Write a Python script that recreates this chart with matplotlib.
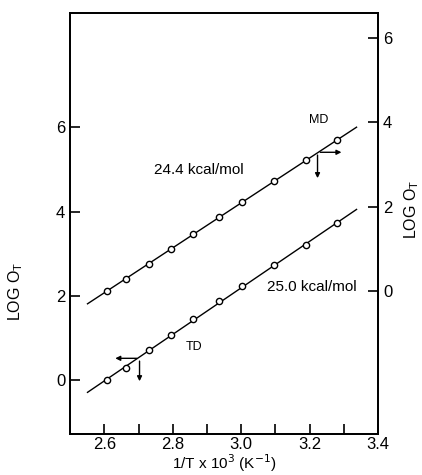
import numpy as np
import matplotlib.pyplot as plt

# 1/T x 10^3 values of the measured points
inv_T = [2.607, 2.664, 2.732, 2.796, 2.860, 2.935, 3.003, 3.097, 3.190, 3.281]
# TD series, read against the left axis
log_td = [0.00, 0.30, 0.71, 1.07, 1.45, 1.88, 2.24, 2.73, 3.21, 3.72]
# MD series, read against the right axis
log_md = [-0.01, 0.29, 0.65, 0.99, 1.36, 1.75, 2.12, 2.61, 3.10, 3.57]

x_ticks = [2.6, 2.8, 3.0, 3.2, 3.4]
x_tick_labels = ["2.6", "2.8", "3.0", "3.2", "3.4"]
y_ticks = [0, 2, 4, 6]
right_offset = 2.12  # right axis value = left axis value - offset

plt.rcParams['font.family'] = ['Liberation Sans', 'DejaVu Sans']
fig = plt.figure(figsize=(4.22, 4.75), dpi=100)
ax = fig.add_axes([0.166, 0.086, 0.730, 0.887])
ax2 = ax.twinx()

ylim = (-1.28, 8.72)
ax.set_xlim(2.5, 3.4)
ax.set_ylim(*ylim)
ax2.set_ylim(ylim[0] - right_offset, ylim[1] - right_offset)

# fitted lines
xfit = np.array([2.551, 3.337])
p_td = np.polyfit(inv_T, log_td, 1)
p_md = np.polyfit(inv_T, log_md, 1)
ax.plot(xfit, np.polyval(p_td, xfit), color='black', lw=1.0)
ax2.plot(xfit, np.polyval(p_md, xfit), color='black', lw=1.0)

ax.plot(inv_T, log_td, 'o', mfc='white', mec='black', ms=4.5, mew=1.0)
ax2.plot(inv_T, log_md, 'o', mfc='white', mec='black', ms=4.5, mew=1.0)

# axis-indicator arrows
arr = dict(arrowstyle='-|>', color='black', lw=1.0, mutation_scale=7)
ax.annotate('', xy=(2.624, 0.52), xytext=(2.703, 0.52), arrowprops=arr)
ax.annotate('', xy=(2.703, -0.09), xytext=(2.703, 0.52), arrowprops=arr)
ax.annotate('', xy=(3.301, 5.41), xytext=(3.223, 5.41), arrowprops=arr)
ax.annotate('', xy=(3.223, 4.73), xytext=(3.223, 5.41), arrowprops=arr)

ax.text(3.225, 6.17, 'MD', fontsize=9, ha='center', va='center')
ax.text(2.876, 5.0, '24.4 kcal/mol', fontsize=11, ha='center', va='center')
ax.text(3.206, 2.21, '25.0 kcal/mol', fontsize=11, ha='center', va='center')
ax.text(2.862, 0.79, 'TD', fontsize=9, ha='center', va='center')

ax.set_xticks(x_ticks)
ax.set_xticklabels(x_tick_labels)
ax.set_xticks(np.arange(2.6, 3.35, 0.1), minor=True)
ax.set_yticks(y_ticks)
ax2.set_yticks(y_ticks)

ax.tick_params(axis='x', which='both', direction='in', length=7, width=1.2,
               labelsize=12, pad=2)
ax.tick_params(axis='y', direction='in', length=7, width=1.2, labelsize=12)
ax2.tick_params(axis='y', direction='in', length=7, width=1.2, labelsize=12)

for a in (ax, ax2):
    for s in a.spines.values():
        s.set_linewidth(1.3)

ax.set_xlabel('1/T x 10$^3$ (K$^{-1}$)', fontsize=11, labelpad=0)
ax.set_ylabel('LOG O$_\\mathregular{T}$', fontsize=11.5)
ax.yaxis.set_label_coords(-0.146, 0.339)
ax2.set_ylabel('LOG O$_\\mathregular{T}$', fontsize=11.5)
ax2.yaxis.set_label_coords(1.08, 0.533)

fig.savefig('out.png', dpi=100)
